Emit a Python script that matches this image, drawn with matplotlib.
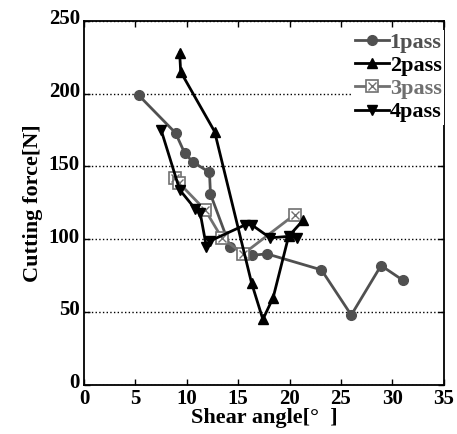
import numpy as np
import matplotlib.pyplot as plt
from matplotlib.transforms import ScaledTranslation

plt.rcParams['font.family'] = ['Liberation Serif', 'DejaVu Serif']
plt.rcParams['font.weight'] = 'bold'

# datos
x1 = [5.3, 8.9, 9.8, 10.6, 12.2, 12.3, 14.2, 16.3, 17.8, 23.1, 26.0, 28.9, 31.0]
y1 = [199, 173, 159, 153, 146, 131, 95, 89, 90, 79, 48, 82, 72]

x2 = [9.3, 9.4, 12.7, 16.3, 17.4, 18.4, 19.9, 21.3]
y2 = [228, 215, 174, 70, 45, 60, 102, 113]

x3 = [8.8, 9.2, 11.8, 13.4, 15.5, 20.5]
y3 = [142, 139, 120, 101, 90, 117]

x4 = [7.5, 9.3, 10.8, 11.3, 11.9, 12.3, 15.7, 16.3, 18.1, 19.9, 20.7]
y4 = [175, 134, 121, 118, 95, 99, 110, 110, 101, 102, 101]

fig = plt.figure(figsize=(4.57, 4.34), dpi=100)
ax = fig.add_axes([0.184, 0.113, 0.787, 0.839])

ax.plot(x1, y1, '-o', color='#505050', lw=2, ms=7, label='1pass', zorder=3)
ax.plot(x2, y2, '-^', color='black', lw=2, ms=7, label='2pass', zorder=4)
l3, = ax.plot(x3, y3, '-s', color='#707070', lw=2, ms=9, mfc='white', mec='#707070',
              mew=1.2, zorder=3)
ax.plot(x3, y3, 'x', color='#707070', ms=6, mew=1, zorder=3)
ax.plot(x4, y4, '-v', color='black', lw=2, ms=7, label='4pass', zorder=4)

# marcador del 3pass: cuadrado con aspa
h3 = (l3, plt.Line2D([], [], ls='none', marker='x', color='#707070', ms=6, mew=1))
handles, labels = ax.get_legend_handles_labels()
handles.insert(2, h3)
labels.insert(2, '3pass')
leg = ax.legend(handles, labels, loc='upper right', bbox_to_anchor=(1.0, 0.975),
                prop={'family': 'Liberation Serif', 'weight': 'bold', 'size': 16},
                handlelength=1.5, handletextpad=0.05, labelspacing=0.12,
                borderpad=0.1, borderaxespad=0, frameon=True, fancybox=False,
                facecolor='white', edgecolor='none', framealpha=1)
leg.set_zorder(5)
for t, c in zip(leg.get_texts(), ['#505050', 'black', '#707070', 'black']):
    t.set_color(c)

ax.set_xlim(0, 35)
ax.set_ylim(0, 250)
ax.set_xticks(np.arange(0, 36, 5))
ax.set_yticks(np.arange(0, 251, 50))
ax.yaxis.grid(True, linestyle=':', color='black', lw=1)
ax.tick_params(direction='in', top=True, right=True, labelsize=15, length=4, width=1)
ax.tick_params(axis='x', pad=3)
ax.tick_params(axis='y', pad=3)
# etiquetas del eje y un poco elevadas, como en el original
off = ScaledTranslation(0, 3 / 72, fig.dpi_scale_trans)
for lab in ax.get_yticklabels():
    lab.set_transform(lab.get_transform() + off)
for lab in ax.get_xticklabels() + ax.get_yticklabels():
    lab.set_fontweight('bold')
for s in ax.spines.values():
    s.set_linewidth(1.3)

ax.set_xlabel('Shear angle[°  ]', fontsize=16, fontweight='bold', labelpad=-1)
ax.set_ylabel('Cutting force[N]', fontsize=16, fontweight='bold', labelpad=4)

fig.savefig('out.png', dpi=100)
